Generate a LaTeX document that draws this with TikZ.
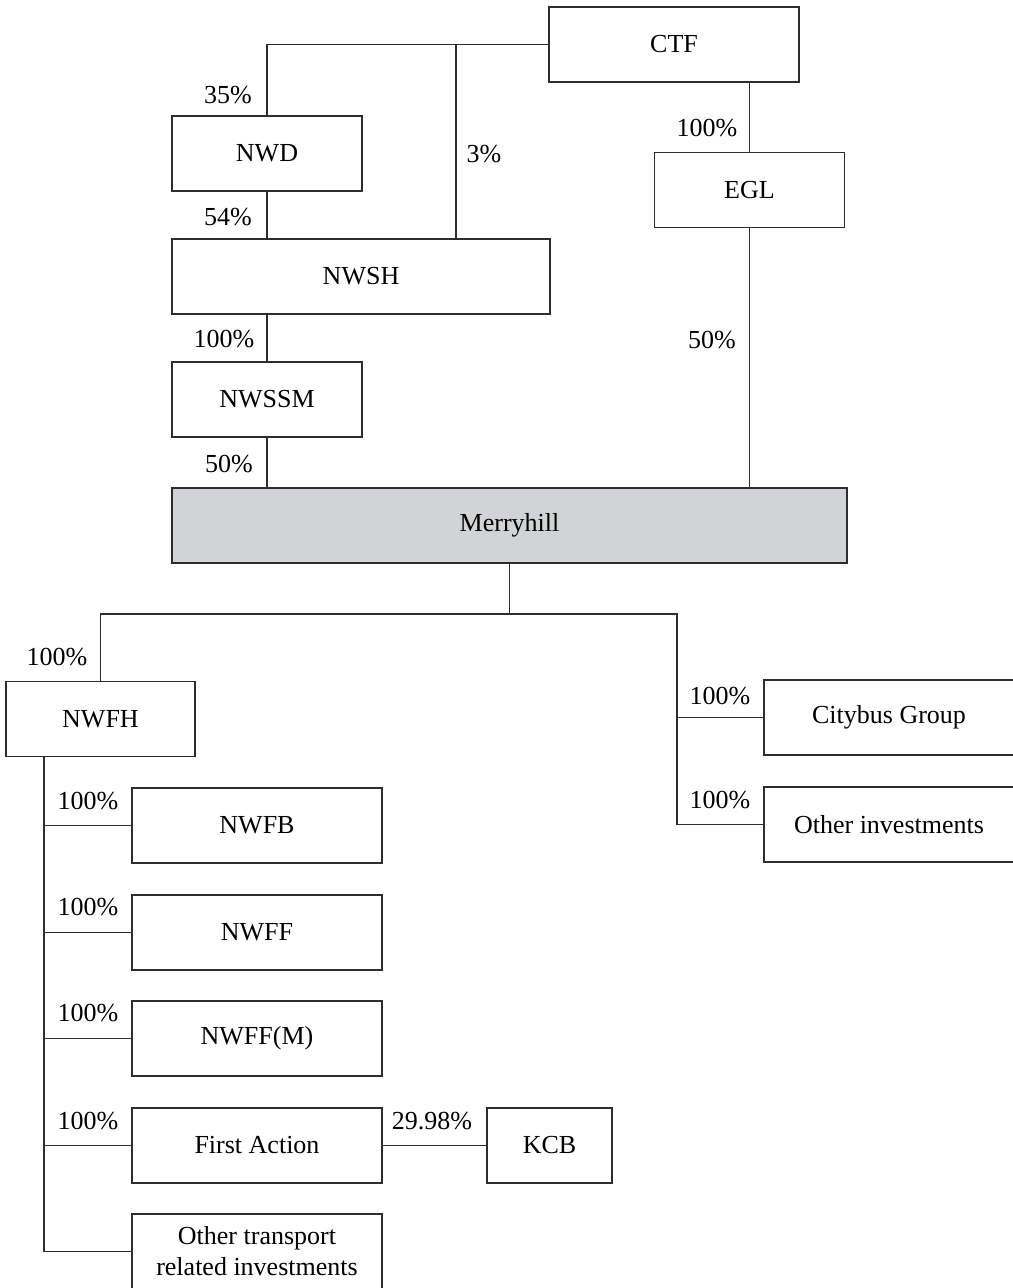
\documentclass[tikz,border=0pt]{standalone}
\usepackage{fontspec}
\setmainfont{Liberation Serif}
\usetikzlibrary{positioning,calc}
\definecolor{mhgray}{RGB}{209,211,212}
\definecolor{orgline}{RGB}{45,45,45}

\begin{document}
\begin{tikzpicture}[
  x=0.5pt, y=-0.5pt,
  font=\fontsize{13}{15.5}\selectfont,
  co/.style={draw=orgline, line width=0.7pt, fill=white, inner sep=0pt, outer sep=0pt,
             align=center, minimum height=37.5pt},
  small/.style={co, minimum width=95pt},
  wide/.style={co, minimum width=125pt},
  share/.style={inner sep=0pt},
  link/.style={draw=orgline, line width=0.7pt}
]
\useasboundingbox (0,0) rectangle (1012,1288);

% upper holding chain
\node[wide] (ctf) at (674,44.5) {CTF};
\node[small] (nwd) at (267,153.5) {NWD};
\node[small] (egl) at (749.5,190) {EGL};
\node[co, minimum width=189pt] (nwsh) at (361,276.5) {NWSH};
\node[small] (nwssm) at (267,399.5) {NWSSM};
\node[co, fill=mhgray, minimum width=337.5pt] (merry) at (509.5,525.5) {Merryhill};

% lower tier
\node[co, minimum width=94.5pt] (nwfh) at (100.5,719) {NWFH};
\node[wide] (city) at (889,717.5) {Citybus Group};
\node[wide] (othinv) at (889,824.5) {Other investments};
\node[wide] (nwfb) at (257,825.5) {NWFB};
\node[wide] (nwff) at (257,932.5) {NWFF};
\node[wide] (nwffm) at (257,1038.5) {NWFF(M)};
\node[wide] (fa) at (257,1145.5) {First Action};
\node[co, minimum width=62.5pt] (kcb) at (549.5,1145.5) {KCB};
\node[wide] (otr) at (257,1251.5) {Other transport\\related investments};

\coordinate (tap) at (456,0);
\coordinate (rail) at (677,614);
\coordinate (spine) at (44,757);

\draw[link] (ctf.west) -| (nwd.north);
\draw[link] (tap |- ctf.west) -- (tap |- nwsh.north);
\draw[link] (egl.north) -- (egl.north |- ctf.south);
\draw[link] (nwd.south) -- (nwd.south |- nwsh.north);
\draw[link] (nwd.south |- nwsh.south) -- (nwssm.north);
\draw[link] (nwssm.south) -- (nwssm.south |- merry.north);
\draw[link] (egl.south) -- (egl.south |- merry.north);

\draw[link] (merry.south) -- (merry.south |- rail);
\draw[link] (nwfh.north) |- (rail) -- (rail |- othinv.west) -- (othinv.west);
\draw[link] (rail |- city.west) -- (city.west);

\draw[link] (spine) |- (otr.west);
\foreach \kid in {nwfb,nwff,nwffm,fa}
  \draw[link] (spine |- \kid.west) -- (\kid.west);
\draw[link] (fa.east) -- (kcb.west);

% shareholdings
\node[share] (p1) at (228,95) {35\%};
\node[share] (p2) at (484,154) {3\%};
\node[share] (p3) at (707,128) {100\%};
\node[share] (p4) at (228,217) {54\%};
\node[share] (p5) at (224,339) {100\%};
\node[share] (p6) at (712,340) {50\%};
\node[share] (p7) at (229,464) {50\%};
\node[share] (p8) at (57,657) {100\%};
\node[share] (p9) at (720,696) {100\%};
\node[share] (p10) at (720,800) {100\%};
\node[share] (p11) at (88,801) {100\%};
\node[share] (p12) at (88,907) {100\%};
\node[share] (p13) at (88,1013) {100\%};
\node[share] (p14) at (88,1121) {100\%};
\node[share] (p15) at (432,1121) {29.98\%};
\end{tikzpicture}
\end{document}
